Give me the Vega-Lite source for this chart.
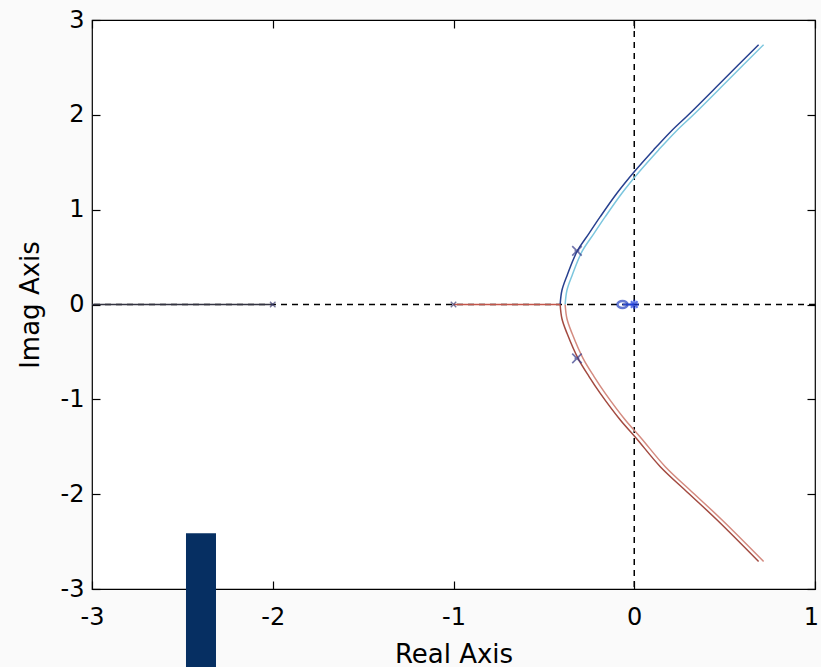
{
  "$schema": "https://vega.github.io/schema/vega-lite/v6.json",
  "autosize": {"type": "none"},
  "width": 723,
  "height": 569,
  "padding": {"left": 92, "top": 20, "right": 6, "bottom": 78},
  "background": "#fafafa",
  "config": {
    "view": {"stroke": "#000000", "strokeWidth": 1.2, "fill": "#ffffff"},
    "axis": {"labelFont": "DejaVu Sans", "titleFont": "DejaVu Sans", "labelColor": "#000000", "titleColor": "#000000", "domain": false, "tickColor": "#000000", "tickWidth": 1.2, "grid": false, "titleFontWeight": "normal", "zindex": 1, "labelFlush": false, "labelOverlap": false}
  },
  "datasets": {
    "branches": [
      {"b": "up", "o": 0, "x": -0.41, "y": 0},
      {"b": "up", "o": 1, "x": -0.40, "y": 0.15},
      {"b": "up", "o": 2, "x": -0.372, "y": 0.304},
      {"b": "up", "o": 3, "x": -0.317, "y": 0.557},
      {"b": "up", "o": 4, "x": -0.25, "y": 0.75},
      {"b": "up", "o": 5, "x": -0.188, "y": 0.926},
      {"b": "up", "o": 6, "x": -0.096, "y": 1.173},
      {"b": "up", "o": 7, "x": 0.0, "y": 1.40},
      {"b": "up", "o": 8, "x": 0.107, "y": 1.63},
      {"b": "up", "o": 9, "x": 0.2, "y": 1.82},
      {"b": "up", "o": 10, "x": 0.31, "y": 2.02},
      {"b": "up", "o": 11, "x": 0.494, "y": 2.37},
      {"b": "up", "o": 12, "x": 0.688, "y": 2.74},
      {"b": "down", "o": 0, "x": -0.41, "y": 0},
      {"b": "down", "o": 1, "x": -0.40, "y": -0.15},
      {"b": "down", "o": 2, "x": -0.372, "y": -0.304},
      {"b": "down", "o": 3, "x": -0.311, "y": -0.568},
      {"b": "down", "o": 4, "x": -0.25, "y": -0.76},
      {"b": "down", "o": 5, "x": -0.188, "y": -0.937},
      {"b": "down", "o": 6, "x": -0.077, "y": -1.218},
      {"b": "down", "o": 7, "x": 0.011, "y": -1.41},
      {"b": "down", "o": 8, "x": 0.144, "y": -1.71},
      {"b": "down", "o": 9, "x": 0.3, "y": -1.99},
      {"b": "down", "o": 10, "x": 0.457, "y": -2.27},
      {"b": "down", "o": 11, "x": 0.688, "y": -2.71},
      {"b": "real", "o": 0, "x": -1.0, "y": 0},
      {"b": "real", "o": 1, "x": -0.41, "y": 0},
      {"b": "left", "o": 0, "x": -3.0, "y": 0},
      {"b": "left", "o": 1, "x": -2.0, "y": 0},
      {"b": "zs", "o": 0, "x": -0.065, "y": 0},
      {"b": "zs", "o": 1, "x": 0.0, "y": 0}
    ],
    "poles": [{"x": -2, "y": 0}, {"x": -1, "y": 0}],
    "clpoles": [{"x": -0.317, "y": 0.565}, {"x": -0.317, "y": -0.568}],
    "star": [{"x": 0, "y": 0}],
    "zero": [{"x": -0.065, "y": 0}],
    "overlay": [{"x": -2.48, "x2": -2.314, "y": -2.411, "y2": -3.825}],
    "label": [{"x": -2.828, "y": -2.169, "t": "Zoom"}],
    "ticksdata": [{"x": 0, "y": 0}]
  },
  "layer": [
    {
      "data": {"name": "ticksdata"},
      "mark": {"type": "point", "opacity": 0},
      "encoding": {
        "x": {"field": "x", "type": "quantitative", "scale": {"domain": [-3, 1], "nice": false, "zero": false},
              "axis": {"orient": "bottom", "values": [-3, -2, -1, 0, 1], "labelExpr": "'' + datum.value", "labelOffset": {"condition": {"test": "datum.value == 1", "value": -4}, "value": 0}, "ticks": false, "labelFontSize": 24, "labelPadding": 16, "title": "Real Axis", "titleFontSize": 26, "titlePadding": 12}},
        "y": {"field": "y", "type": "quantitative", "scale": {"domain": [-3, 3], "nice": false, "zero": false},
              "axis": {"orient": "left", "values": [-3, -2, -1, 0, 1, 2, 3], "labelExpr": "'' + datum.value", "ticks": false, "labelFontSize": 24, "labelPadding": 8, "title": "Imag Axis", "titleFontSize": 26, "titlePadding": 17}}
      }
    },
    {
      "data": {"name": "ticksdata"},
      "mark": {"type": "point", "opacity": 0},
      "encoding": {
        "x": {"field": "x", "type": "quantitative", "axis": {"orient": "bottom", "values": [-3, -2, -1, 0, 1], "offset": -8, "tickSize": 8, "labels": false, "title": null}},
        "y": {"field": "y", "type": "quantitative", "axis": {"orient": "left", "values": [-3, -2, -1, 0, 1, 2, 3], "offset": -8, "tickSize": 8, "labels": false, "title": null}}
      }
    },
    {
      "data": {"name": "ticksdata"},
      "mark": {"type": "point", "opacity": 0},
      "encoding": {
        "x": {"field": "x", "type": "quantitative", "axis": {"orient": "top", "values": [-3, -2, -1, 0, 1], "offset": -8, "tickSize": 8, "labels": false, "title": null}},
        "y": {"field": "y", "type": "quantitative", "axis": {"orient": "right", "values": [-3, -2, -1, 0, 1, 2, 3], "offset": -8, "tickSize": 8, "labels": false, "title": null}}
      }
    },
    {
      "data": {"values": [{"y": 0}]},
      "mark": {"type": "rule", "color": "#000000", "strokeWidth": 1.5, "strokeDash": [6, 5]},
      "encoding": {"y": {"field": "y", "type": "quantitative", "axis": null}}
    },
    {
      "data": {"values": [{"x": 0}]},
      "mark": {"type": "rule", "color": "#000000", "strokeWidth": 1.5, "strokeDash": [6, 5]},
      "encoding": {"x": {"field": "x", "type": "quantitative", "axis": null}}
    },
    {
      "data": {"name": "branches"},
      "transform": [{"filter": "datum.b === 'up'"}],
      "mark": {"type": "line", "color": "#7cc6de", "strokeWidth": 1.5, "xOffset": 5, "interpolate": "catmull-rom"},
      "encoding": {"x": {"field": "x", "type": "quantitative", "axis": null}, "y": {"field": "y", "type": "quantitative", "axis": null}, "order": {"field": "o"}}
    },
    {
      "data": {"name": "branches"},
      "transform": [{"filter": "datum.b === 'up'"}],
      "mark": {"type": "line", "color": "#27408f", "strokeWidth": 1.5, "interpolate": "catmull-rom"},
      "encoding": {"x": {"field": "x", "type": "quantitative", "axis": null}, "y": {"field": "y", "type": "quantitative", "axis": null}, "order": {"field": "o"}}
    },
    {
      "data": {"name": "branches"},
      "transform": [{"filter": "datum.b === 'down'"}],
      "mark": {"type": "line", "color": "#d48b80", "strokeWidth": 1.5, "xOffset": 5, "interpolate": "catmull-rom"},
      "encoding": {"x": {"field": "x", "type": "quantitative", "axis": null}, "y": {"field": "y", "type": "quantitative", "axis": null}, "order": {"field": "o"}}
    },
    {
      "data": {"name": "branches"},
      "transform": [{"filter": "datum.b === 'down'"}],
      "mark": {"type": "line", "color": "#a34a40", "strokeWidth": 1.5, "interpolate": "catmull-rom"},
      "encoding": {"x": {"field": "x", "type": "quantitative", "axis": null}, "y": {"field": "y", "type": "quantitative", "axis": null}, "order": {"field": "o"}}
    },
    {
      "data": {"name": "branches"},
      "transform": [{"filter": "datum.b === 'real'"}],
      "mark": {"type": "line", "color": "#c2554a", "strokeWidth": 1.5},
      "encoding": {"x": {"field": "x", "type": "quantitative", "axis": null}, "y": {"field": "y", "type": "quantitative", "axis": null}, "order": {"field": "o"}}
    },
    {
      "data": {"name": "branches"},
      "transform": [{"filter": "datum.b === 'left'"}],
      "mark": {"type": "line", "color": "#333340", "strokeWidth": 1.5},
      "encoding": {"x": {"field": "x", "type": "quantitative", "axis": null}, "y": {"field": "y", "type": "quantitative", "axis": null}, "order": {"field": "o"}}
    },
    {
      "data": {"name": "branches"},
      "transform": [{"filter": "datum.b === 'zs'"}],
      "mark": {"type": "line", "color": "#2a48c8", "strokeWidth": 2},
      "encoding": {"x": {"field": "x", "type": "quantitative", "axis": null}, "y": {"field": "y", "type": "quantitative", "axis": null}, "order": {"field": "o"}}
    },
    {
      "data": {"name": "poles"},
      "mark": {"type": "point", "shape": "M-1,-1L1,1M-1,1L1,-1", "filled": false, "color": "#3a3a70", "size": 30, "strokeWidth": 1.3},
      "encoding": {"x": {"field": "x", "type": "quantitative", "axis": null}, "y": {"field": "y", "type": "quantitative", "axis": null}}
    },
    {
      "data": {"name": "clpoles"},
      "mark": {"type": "point", "shape": "M-1,-1L1,1M-1,1L1,-1M-0.5,0L0.5,0", "filled": false, "color": "#353a8a", "size": 90, "strokeWidth": 1.6},
      "encoding": {"x": {"field": "x", "type": "quantitative", "axis": null}, "y": {"field": "y", "type": "quantitative", "axis": null}}
    },
    {
      "data": {"name": "zero"},
      "mark": {"type": "point", "shape": "M-1.3,0A1.3,0.9,0,1,0,1.3,0A1.3,0.9,0,1,0,-1.3,0Z", "filled": false, "color": "#2340c0", "size": 60, "strokeWidth": 2.5},
      "encoding": {"x": {"field": "x", "type": "quantitative", "axis": null}, "y": {"field": "y", "type": "quantitative", "axis": null}}
    },
    {
      "data": {"name": "star"},
      "mark": {"type": "point", "shape": "M-1,0L1,0M0,-1L0,1M-0.7,-0.7L0.7,0.7M-0.7,0.7L0.7,-0.7", "filled": false, "color": "#1a3ae0", "size": 90, "strokeWidth": 2.2},
      "encoding": {"x": {"field": "x", "type": "quantitative", "axis": null}, "y": {"field": "y", "type": "quantitative", "axis": null}}
    },
    {
      "data": {"name": "label"},
      "mark": {"type": "text", "font": "Liberation Sans", "fontSize": 58, "align": "left", "baseline": "alphabetic", "color": "#ffffff"},
      "encoding": {"x": {"field": "x", "type": "quantitative", "axis": null}, "y": {"field": "y", "type": "quantitative", "axis": null}, "text": {"field": "t"}}
    },
    {
      "data": {"name": "overlay"},
      "mark": {"type": "rect", "color": "#062f62"},
      "encoding": {"x": {"field": "x", "type": "quantitative", "axis": null}, "x2": {"field": "x2"}, "y": {"field": "y", "type": "quantitative", "axis": null}, "y2": {"field": "y2"}}
    }
  ],
  "resolve": {"scale": {"x": "shared", "y": "shared"}, "axis": {"x": "independent", "y": "independent"}}
}
